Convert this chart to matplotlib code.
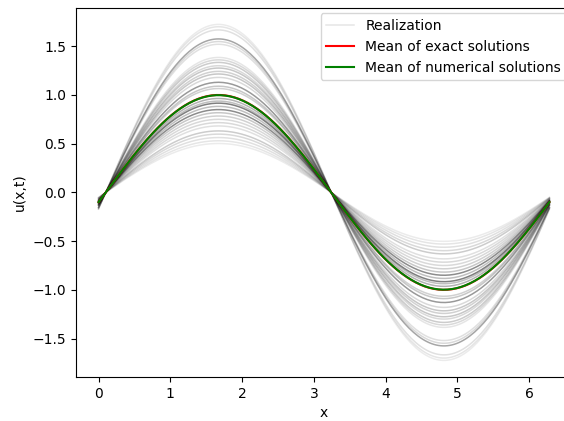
import numpy as np
import matplotlib
matplotlib.use("Agg")
import matplotlib.pyplot as plt

# Amplitudes of the sampled realizations u = A * sin(x - t), with line opacity
amplitudes = [1.724, 1.70, 1.667, 1.575, 1.548, 1.52, 1.385, 1.36, 1.334, 1.30,
              1.276, 1.242, 1.215, 1.18, 1.13, 1.09, 1.066, 0.964, 0.937, 0.916,
              0.883, 0.85, 0.818, 0.784, 0.75, 0.716, 0.682, 0.631, 0.598, 0.563,
              0.53, 0.502]
opacity = [0.08, 0.10, 0.12, 0.35, 0.15, 0.12, 0.10, 0.15, 0.20, 0.15,
           0.22, 0.18, 0.22, 0.15, 0.40, 0.22, 0.18, 0.30, 0.25, 0.50,
           0.25, 0.45, 0.22, 0.18, 0.15, 0.15, 0.12, 0.20, 0.15, 0.12,
           0.10, 0.08]
t_final = 0.1
mean_exact_amp = 1.0
mean_numeric_amp = 0.998

x = np.linspace(0, 2 * np.pi, 200)

W, H = 564, 421
fig = plt.figure(figsize=(W / 100, H / 100), dpi=100)
# axes run past the right edge of the canvas
ax = fig.add_axes([76 / W, 43.8 / H, 496 / W, 369.6 / H])
ax.spines["right"].set_visible(False)
for i, (a, al) in enumerate(zip(amplitudes, opacity)):
    ax.plot(x, a * np.sin(x - t_final), color="k", alpha=al, lw=1.1,
            label="Realization" if i == 0 else None)
ax.plot(x, mean_exact_amp * np.sin(x - t_final), color="red", lw=1.5,
        label="Mean of exact solutions")
ax.plot(x, mean_numeric_amp * np.sin(x - t_final), color="green", lw=1.5,
        label="Mean of numerical solutions")

ax.set_xlabel("x")
ax.set_ylabel("u(x,t)")
leg = ax.legend(loc="upper right", borderaxespad=0.4)
leg.get_lines()[0].set_alpha(0.1)

fig.savefig("out.png", dpi=100)
